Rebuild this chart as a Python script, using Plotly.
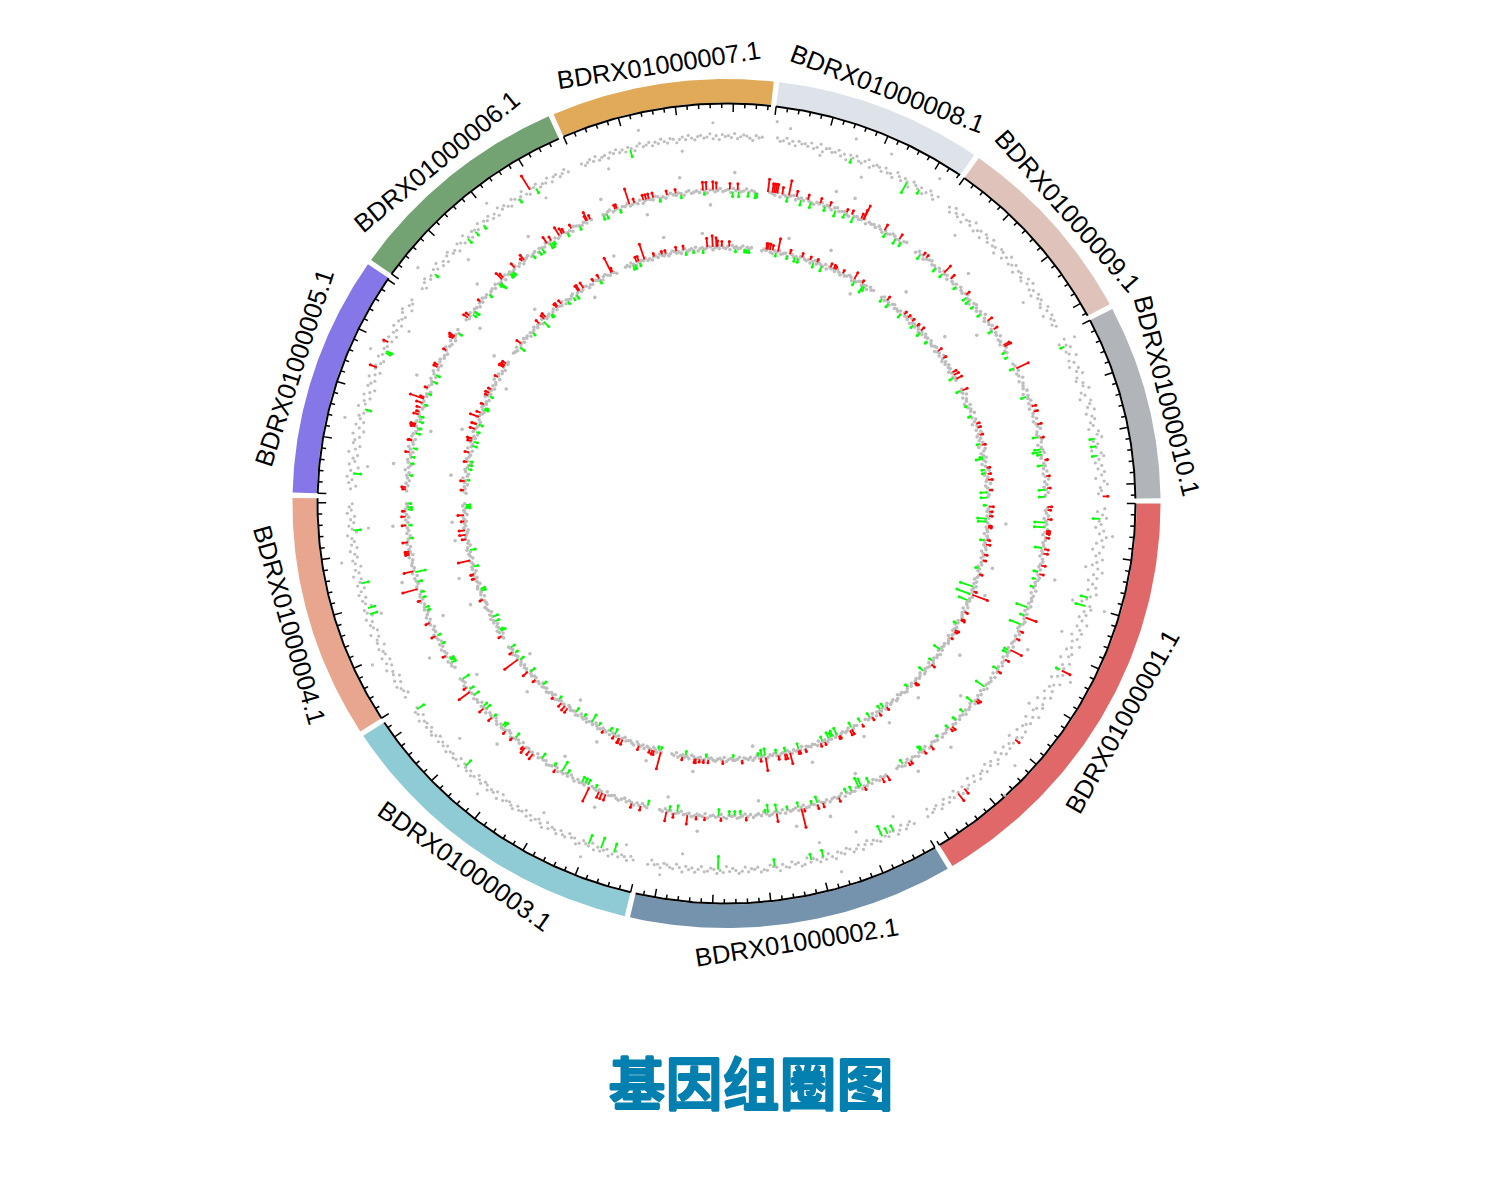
import math
import plotly.graph_objects as go

SECTOR_NAMES = ["BDRX01000001.1","BDRX01000002.1","BDRX01000003.1","BDRX01000004.1","BDRX01000005.1",
                "BDRX01000006.1","BDRX01000007.1","BDRX01000008.1","BDRX01000009.1","BDRX01000010.1"]
SECTOR_LENGTHS = [36.0,26.7,26.55,20.4,20.15,18.9,18.25,17.1,16.25,16.3]
SECTOR_COLORS = ["#E16868","#7593AD","#8FCBD4","#E9A68F","#8577E8","#74A373","#E1AA58","#DEE2E9","#DFC3BA","#B1B4B8"]
TITLE = "基因组圈图"

TRACK_BASE = [367, 313, 256]

T1 = [
[3,-4,1,5,-2,0,-5,3,-1,6,2,-3,4,-6,1,-2,5,0,-4,2,7,-1,3,-5,0,4,-3,6,1,-2,-6,3,5,-1,2,-4,0,6,-3,1,4,-5,2,-2,7,0,-4,3,1,-6,5,-1,2,-3,4,0,-5,6,1,-2,3,-4,5,0,-6,2,4,-1,-3,6,1,-5,3,0,-2,4,-4,5,1,-6,2,-1,3,-3,4,0,-5,2,5,-2,1,-4,3,-1,0,4,-3,2,-5,1,3,-2,4,0,-4,2,-1,3,-3,1,4,-2,0,2,-4,3],
[2,-2,0,3,-3,1,4,-1,-2,2,0,-4,3,1,-1,2,-3,0,4,-2,1,3,-1,-3,2,0,-2,4,1,-3,2,-1,3,0,-2,1,-4,2,3,-1,0,-3,2,1,-2,4,0,-1,-3,2,1,3,-2,0,-1,2,-3,1,3,0,-2,1,-4,2,0,3,-1,-2,1,2,-3,0,3,-1,1,-2,4,0,-3,2,1,-1,-2,3,0,1,-3,2],
[1,-2,3,0,-1,2,-3,1,4,-2,0,2,-1,3,-3,1,0,-2,2,4,-1,0,-3,2,1,-2,3,0,-1,2,-3,4,1,-2,0,3,-1,2,-3,0,1,-2,3,1,-1,0,2,-3,4,-2,1,0,3,-1,-2,2,0,-3,1,3,-1,2,0,-2,4,-3,1,2,-1,0,3,-2,1,-1,2,-3,0,3,1,-2,2,-1,0,4,-3,1,2,-2],
[2,-3,0,1,4,-2,3,-4,1,0,5,-2,2,-3,4,-1,0,3,-4,2,1,-2,5,-3,0,2,-1,4,-3,1,3,-5,0,2,-2,4,1,-3,3,0,-2,5,-1,2,-4,1,3,-2,0,4,-3,2,-1,1,5,-4,0,3,-2,1,-3,4,0,2,-1],
[1,-4,3,0,5,-2,2,-5,4,-1,1,-3,6,0,-4,3,2,-2,5,-5,0,4,-3,1,3,-1,-4,6,0,2,-3,4,-1,-5,3,1,-2,5,0,-4,2,3,-1,-3,4,1,-5,2,0,5,-2,3,-4,1,-1,4,-3,2,0,-2,3,5,-4,1,-1,2],
[0,-3,2,4,-1,1,-4,3,0,5,-2,1,-3,2,4,-1,0,-4,3,1,-2,5,0,-3,2,1,-1,4,-4,2,0,3,-2,1,-3,4,0,2,-1,-3,3,1,-2,0,4,-1,-3,2,1,3,-2,0,-1,3,-3,1,2,-2,0,3,-1],
[1,-2,0,2,-1,3,-2,0,1,-3,2,0,3,-1,1,-2,2,0,-3,1,3,-1,0,2,-2,1,-1,3,0,-2,2,1,-3,0,2,-1,3,0,-2,1,2,-1,0,3,-2,1,-3,2,0,1,-1,3,-2,0,2,1,-1,-3,2,0,1],
[2,-1,0,3,-2,1,-3,2,0,1,-1,3,-2,0,4,-3,1,2,-1,0,3,-2,1,-4,2,0,3,-1,-2,1,4,-3,0,2,1,-2,3,-1,0,-3,4,1,-2,2,0,-4,3,1,-1,2,-3,0,4,1,-2,3],
[1,-3,4,0,-2,3,-4,1,2,-1,5,-3,0,2,-4,3,1,-2,4,-1,0,-5,3,2,-3,1,5,-2,0,3,-4,1,2,-1,-3,4,0,5,-2,1,-4,3,0,2,-1,-3,4,1,-5,3,0,2,-2,1],
[2,-5,1,4,-2,0,6,-3,1,-5,3,0,5,-2,-4,2,1,6,-3,0,-6,4,2,-1,5,-4,1,3,-2,0,-5,4,2,6,-3,1,-1,-6,3,5,0,-4,2,-2,4,1,-5,3,6,-1,0,-3],
]
T2 = [
[1,-1,0,2,-2,0,1,-1,2,0,-2,1,1,-1,0,2,-1,0,-2,1,2,0,-1,1,-2,0,2,1,-1,0,-1,2,-2,1,0,1,-1,2,0,-2,1,-1,0,2,1,-1,-2,0,2,-1,1,0,-1,2,-2,1,0,1,-2,1,0,2,-1,0,1,-2,2,-1,1,0,-1,2,0,-2,1,-1,1,0,2,-2,0,1,-1,2,0,-1,1,-2,1,0,2,-1,-1,1,0,2,-2,1,0,-1,1,2,-2,0,1,-1,2,0,-1,1,-2,0,2,1,-1,0],
[0,1,-1,2,0,-2,1,-1,1,0,2,-1,-2,1,0,1,-1,2,-2,0,1,-1,0,2,-1,1,0,-2,2,0,-1,1,1,-2,0,2,-1,0,1,-1,2,-2,1,0,-1,1,2,0,-2,1,-1,0,2,-1,1,-2,0,1,2,-1,0,-1,2,1,-2,0,1,-1,0,2,-2,1,0,-1,1,2,-1,0,1,-2,0,1,2,-1,0,-2,1,0],
[1,0,-2,1,-1,2,0,-1,1,-2,0,2,1,-1,0,1,-2,2,0,-1,1,0,-1,2,-2,1,0,1,-1,2,0,-2,1,-1,1,0,2,-1,-2,0,1,2,-1,0,-1,1,-2,2,0,1,-1,0,2,-2,1,-1,0,1,2,-1,-2,0,1,1,-1,2,0,-2,1,0,-1,2,-1,0,1,-2,1,0,2,-1,0,1,-2,1,2,-1,0,1],
[-1,1,0,2,-2,1,-1,0,2,-1,1,-2,0,1,2,-1,0,-2,1,1,-1,2,0,-2,1,0,-1,2,-1,1,0,-2,2,1,-1,0,1,-2,2,0,-1,1,0,-1,2,-2,0,1,-1,2,1,0,-2,1,-1,0,2,-1,1,-2,0,2,1,-1,0],
[0,2,-1,1,-2,0,1,-1,3,0,-2,1,2,-1,0,-2,1,3,-1,0,-2,2,1,-1,-3,0,2,1,-2,0,1,3,-1,-2,1,0,2,-1,0,-3,2,1,-1,0,2,-2,1,3,-1,0,-2,1,2,-1,0,-2,1,3,0,-1,2,-2,0,1,-1,2],
[1,-1,0,2,-1,1,0,-2,1,-1,2,0,1,-2,0,1,-1,2,0,-1,1,-2,2,0,1,-1,0,2,-1,1,-2,0,1,2,-1,0,1,-2,1,0,-1,2,0,1,-2,1,-1,0,2,1,-1,0,-2,2,1,0,-1,1,-1,2,0],
[0,-1,1,2,-1,0,1,-2,1,0,2,-1,0,1,-1,2,-2,0,1,0,-1,2,1,-1,0,-2,1,2,0,-1,1,0,-2,1,2,-1,0,1,-1,2,0,-2,1,1,-1,0,2,-1,0,1,-2,2,0,1,-1,0,2,-1,1,0,-2],
[1,0,-1,2,-2,1,0,-1,1,2,-2,0,1,-1,2,0,-1,-2,1,0,2,-1,1,0,-2,1,2,-1,0,1,-1,-2,2,0,1,-1,0,2,-2,1,0,1,-1,2,0,-2,1,-1,0,2,1,-1,0,-2,1,2],
[-1,2,0,1,-2,0,1,2,-1,0,-2,1,-1,2,0,1,-2,3,0,-1,1,-2,2,0,-1,1,2,-1,0,-3,1,2,0,-2,1,-1,3,0,-2,1,0,2,-1,-2,1,0,3,-1,0,-2,1,2,-1,0],
[0,1,-2,2,-1,0,3,-2,1,0,-1,2,-3,1,0,2,-1,1,-2,3,0,-1,2,-2,0,1,3,-1,-2,0,2,1,-3,0,1,2,-1,-2,3,0,1,-1,2,-2,0,3,-1,1,-2,0,2,-1],
]
T3 = [
[1,0,-1,2,-1,1,-2,0,2,-1,0,1,-2,1,2,-1,0,-1,1,2,-2,0,1,-1,2,0,1,-2,0,-1,2,1,0,-2,1,-1,2,0,-1,1,-2,2,0,1,-1,0,2,-2,1,-1,0,1,2,-1,0,-2,1,0,-1,2,1,-2,0,1,2,-1,0,-1,1,-2,2,0,1,-1,0,2,-2,1,0,-1,1,2,-2,0,1,-1,0,2,-1,1,-2,0,2,1,-1,0,-2,1,2,-1,0,1,-2,0,2,-1,1,0,-1,2,-2,1,0,1,-1],
[0,-1,1,2,-2,0,1,-1,0,2,-1,1,-2,1,0,2,-1,0,1,-2,2,0,-1,1,0,-1,2,-2,1,0,1,-1,2,0,-2,1,-1,0,2,1,-2,0,-1,1,2,-1,0,1,-2,0,2,-1,1,0,-1,2,-2,0,1,1,-1,0,2,-2,1,-1,0,2,1,-1,0,-2,1,2,-1,0,1,-1,-2,2,0,1,-1,0,2,-2,1,0],
[1,-1,2,0,-2,1,0,-1,2,-1,1,0,-2,2,1,-1,0,1,-2,0,2,-1,1,0,-1,2,-2,1,0,-1,1,2,0,-2,1,-1,0,2,-1,1,0,-2,1,2,-1,0,1,-1,-2,2,0,1,-1,0,1,2,-2,0,-1,1,2,-1,0,1,-2,1,0,2,-1,-1,1,0,-2,2,0,1,-1,2,0,-2,1,-1,0,2,1,-1,0,1],
[0,1,-2,1,2,-1,0,-2,1,0,2,-1,1,-2,0,1,2,-1,-1,0,2,-2,1,0,-1,2,1,-2,0,1,-1,2,0,-2,1,1,-1,0,2,-2,0,1,-1,2,1,-2,0,-1,2,1,0,-1,-2,2,0,1,-1,1,2,-2,0,1,-1,2,0],
[-1,2,0,1,-2,1,0,3,-1,-2,1,2,0,-1,-3,1,2,0,-1,1,-2,3,0,-1,2,1,-2,0,-3,2,1,0,-1,2,-2,0,3,1,-1,-2,0,2,1,-1,0,-2,3,1,-1,2,0,-2,1,-1,0,3,-2,1,2,-1,0,-2,1,2,-1,0],
[1,0,-1,2,-2,0,1,-1,2,0,1,-2,1,-1,0,2,-1,1,0,-2,2,1,-1,0,1,-2,0,2,-1,1,0,-1,2,-2,1,0,-1,1,2,-2,0,1,-1,0,2,1,-2,0,-1,2,1,0,-1,-2,1,2,0,-1,1,0,-2],
[0,1,-1,2,0,-2,1,-1,1,0,2,-1,0,-2,1,1,-1,2,0,-1,1,-2,0,2,1,-1,0,-2,1,2,-1,0,1,-1,2,-2,0,1,-1,0,2,1,-2,0,1,-1,2,0,-1,1,-2,2,0,1,-1,0,2,-2,1,0,1],
[-1,1,0,2,-1,-2,1,0,2,-1,0,1,-2,2,1,-1,0,-2,1,2,0,-1,1,-2,0,2,-1,1,0,-1,2,-2,1,0,1,-1,2,0,-2,1,-1,0,2,1,-2,0,-1,1,2,-1,0,1,-2,2,0,1],
[0,2,-1,1,0,-2,1,2,-1,0,-1,1,-2,2,0,1,-1,3,-2,0,1,-1,2,0,-2,1,-1,2,0,1,-3,2,0,-1,1,2,-2,0,1,-1,3,0,-2,1,-1,2,0,1,-2,0,2,-1,1,0],
[1,-1,0,3,-2,1,0,-3,2,-1,1,0,3,-2,-1,2,0,-3,1,2,-1,3,0,-2,1,-1,2,0,-3,3,1,-2,0,2,-1,1,-3,0,2,3,-1,-2,1,0,-1,3,-2,0,2,-1,1,0],
]

T1_OUT = [(277.4,18),(279.5,13),(289.2,19),(294.8,18),(292,-15),(284.7,-7),(302.7,19),(309.8,-18),(325.3,-14),(333.9,12),
(10.2,-10),(15.9,-15),(16.3,18),(21.3,-15),(47,32),(42.9,18),(62.5,-14),(68.9,-15),(73,18),(75,-16),(34,-10),(28,14),(5,12),
(97,-14),(100,10),(106,-12),(112,14),(120,-10),(130,12),(138,-16),(155,15),(162,-12),(171,14),(176,-16),(186,-14),(193,16),(204,14),(209,-12),(218,16),(224,-16),(232,14),(240,-14),(251,-13),(257,16),(263,-12),(268,14)]
T2_OUT = [(289,17),(271.4,18),(292.4,17),(325.5,-16),(315.8,17),(13.4,17),(26.4,16),(40,-14),(48,15),(55,14),(65,-15),(72,16),(84,-14),(78,17),
(95,16),(101,-14),(113,17),(122,-15),(133,16),(145,-15),(152,16),(158,-14),(166,14),(176,14),(187,15),(194,-15),(203,16),(216,-15),(222,15),(234,17),(248,15),(255,-14),(262,16),(267,-14)]
T3_OUT = [(309.7,19),(292,17),(283,16),(300,-14),(322,15),(4.3,18),(33.6,18),(20,13),(14,12),(46,14),(54,15),(60,13),(72,16),(84,-12),
(97,14),(107,13),(118,14),(126,-13),(136,15),(142,-12),(158,14),(164,16),(172,12),(176,13),(186,15),(196,13),(208,-12),(213,15),(226,14),(238,-13),(246,15),(257,17),(265,15)]

T1_BARS = [(289.5,-3),(298.8,-10),(301,-3),(334.6,-3),(349.8,-4),(351,-4),(352.5,-4),(358.9,4),
(2.4,-6),(14.9,-6),(16.3,-9),(27,-3),(27,8),(39.9,4),(52,8),(50.8,5),(65.4,-10),(64.5,-5),(63.5,-5),(76.9,-5),(75,-6),(82.6,-6),
(91.3,-12),(107.5,-8),(109.6,-10),(111.6,-8),(134.2,-6),(145.8,-7),(167.4,-6),(163.4,-6),(162.4,-6),(175.8,-6),
(218.8,-3),(201.7,6),(204.6,-5),(204.3,-4),(206,4),(194.9,-5),(184.7,-6),(226.3,-4),(227.9,-3),(229.5,-3),(236.4,-3),(239.4,-4),(238.5,15),(255.1,-6)]
T2_BARS = [(0.6,3),(1.2,2),(3.5,-9),(2.9,3),(4.4,-9),(5,2),(5.2,2),(5.4,2),(5.6,2),(6.3,2),(8.2,-6),(8.4,3),(9.2,3),(11.4,3),(12.6,-3),(13,3),(14,-2),(15.5,-2),(19.4,-10),(22.8,-10),(21,-3),(21.3,10),(24,2),(25.5,2),(28,-3),(28.5,-3),(27.8,11),(29.8,3),(32,-3),(32.3,2),(36,-9),(39.5,-6),(38.6,3),(39,2),(42,-3),(44,-3),(46,-2),(45.3,3),(45.8,2),(48.5,-1),(52.2,-3),(52.5,-4),(56.5,-3),(50.5,3),(52,2),(55.5,2),(55,2),(60,4),(61,3),(63.5,-4),(64.5,2),(65,-7),(65.5,-9),(67,-3),(68,-3),(69.5,3),(73.5,-5),(72.5,3),(73.5,3),(74.5,-2),(76,2),(76.5,18),(77,-4),(79,-2),(81,7),(81,-6),(82.5,-7),(83,-2),(86.5,2),(87.5,-3),(88.5,-3),(89.5,-3),
(91,2),(91.4,-5),(93.9,2),(95.4,2),(97,8),(98.9,-5),(99.5,3),(100.3,-3),(100.8,8),(104.3,-4),(105.5,3),(107.2,3),(112.1,5),(112.8,5),(113.4,5),(114.2,-2),(115.3,14),(115.7,-4),(116.3,-4),(116.9,-4),(119.9,-3),(121,-9),(122.2,2),(122.7,-2),(125.3,-4),(127.1,5),(127.9,3),(128.9,5),(129.3,2),(131.4,-4),(131.8,2),(133.5,2),(134.2,-4),(134.6,-3),(137,3),(136.9,-2),(138.9,-4),(139.6,-3),(139.2,4),(142.2,-4),(143.1,12),(143.5,-3),(145.8,-6),(144.1,2),
(149.4,-3),(149.9,-3),(150.2,-3),(151,2),(153.3,-2),(155,3),(155,-2),(157.6,3),(160,-2),(160.6,-2),(162,2),(162.5,-2),(163.5,-2),(164.2,14),(165.5,-3),(167.3,-9),(167.5,8),(170.9,3),(171.2,3),(170.6,3),(172.9,4),(173.6,-2),(176,3),(176,-2),(177.6,3),(178.6,2),(179.3,-3),(178.9,-3),
(183,3),(182.6,2),(180,-2),(185.2,-2),(187.4,-2),(188.6,-2),(190.2,-3),(189.4,3),(191.6,3),(191.7,2),(193,-3),(194,-3),(194.5,4),(194.7,4),(194.2,3),(195.2,-3),(196.5,4),(197,2),(197.8,3),(198.7,5),(196.2,-2),(199.8,3),(198.5,-2),(199.5,13),(200.6,-2),(201.6,2),(203,-3),(204.3,-3),(205.8,3),(206.2,3),(209.2,2),(212.2,5),(212,4),(211.7,3),(213,-2),
(216.3,4),(216.8,3),(217.3,-3),(218,-4),(217.9,-3),(220,2),(222,-2),(225.6,7),(226,4),(224.9,-4),(225,-6),(224.6,-2),(227.3,-3),(227.6,-3),(228,-3),(228.7,4),(230.9,5),(230.5,2),(232.7,-2),(234,-3),(234.7,-3),(236,6),(236.9,3),(236.4,-4),(236.8,-4),(237.2,-2),(238.6,8),(239.2,5),(239.6,3),(240.1,-2),(241.1,3),(242.6,-2),(244.3,8),(244.1,4),(244.9,3),
(247.3,-3),(248,-3),(249.7,3),(250,3),(250.5,-2),(252.4,15),(253.3,3),(255,4),(255.5,4),(256,4),(256.8,4),(257.9,-2),(259.3,3),(260.9,3),(261.8,-2),(265.8,7),(266,-1),(266.4,7),(267.6,7),(268.2,6),
(270.6,5),(271.1,-4),(272,5),(272.2,-4),(273.9,-3),(275.2,-4),(275.5,-3),(277.4,12),(278.2,8),(278.5,8),(278.8,8),(279.1,8),(280,6),(281,-3),(281.2,14),(282.6,5),(283.5,-4),(284.7,4),(285.3,-4),(287,4),(288,-3),(288.8,3),(290,-5),(291.7,-3),(292,2),(293.4,-4),(293,3),(294.8,4),(295.2,9),(295.3,14),(299.5,5),(299.9,-3),(302,-4),(302.6,4),(303.2,-3),
(307.3,-3),(307.8,2),(308.5,2),(311,-3),(312.7,8),(312.6,-3),(314.3,4),(316,-2),(318.3,3),(318.7,-3),(319.5,-3),(320.8,-2),(322.7,-2),(324.4,4),(326.3,3),(326.4,-3),(329.7,5),(330,6),(331,-2),(332,-2),(334.5,12),(334.3,-3),(340,-4),(342,3),(343,3),(345.4,3),(347.7,-4),(347.9,2),(350.5,-7),(350,-5),(351,-3),(352,2),(353,-4),(355,2),(357.5,-5),(357.2,2),(358.8,-5)]
T3_BARS = [(0.4,-2),(0.7,3),(1.8,2),(2.8,2),(4.1,-7),(3.4,-8),(5,2),(5.2,2),(5.4,2),(8.3,-3),(8.2,2),(9.2,3),(11.5,2),(12.8,2),(14.7,-2),(16,2),(19,-12),(20.8,-13),(22.3,-8),(20.8,15),(20,2),(25,2),(27,3),(26.7,2),(28,-2),(29.5,3),(29.9,2),(31.5,1),(34.9,-6),(38.8,3),(38,-2),(41,-4),(44,3),(44.3,2),(46,-2),(52.4,2),(53,-3),(53.9,-3),(54.5,2),(56.8,-3),(56.3,2),(59,2),(59.1,-3),(61.4,-4),(61.5,4),(62,4),(64.4,2),(64.7,2),(65,-6),(66,-5),(67,-5),(66.4,-3),(68.5,-3),(68,2),(69,2),(74,-4),(72.5,2),(73.8,2),(74.1,2),(77,-3),(76,10),(76.8,4),(77.2,4),(78.6,3),(79,-3),(81.4,12),(81.5,-6),(82.3,-5),(83,-2),(82.5,2),(86.6,2),(88.5,-2),
(90.8,2),(94,2),(95,2),(95.9,2),(94.5,-2),(96.7,3),(97,3),(99,-3),(99.7,2),(104.5,16),(104.5,-2),(105.2,-2),(106.4,3),(106,3),(107,2),(109.5,3),(113.3,4),(114,4),(114.2,4),(115.3,-4),(116.5,-3),(115.4,2),(118,1),(119.3,-2),(121.1,-7),(123.1,-2),(125.2,-3),(127.2,4),(128,4),(129,3),(129.9,-2),(131.2,1),(134.7,-3),(136.7,2),(138.7,-4),(139.1,5),(142.6,15),(142.3,-3),(144.6,2),(145.7,-3),(144.2,-2),(148.9,2),(150,-4),(150.4,-2),(152.5,-3),(158,2),(153.6,-4),(160,-3),(160.5,-3),(163,2),(164,2),(164,2),(165.7,-3),(167.2,11),(169.5,-4),(172,3),(173,5),(174,5),(176,2),(177.4,5),(179.7,-3),(179.4,-3),(179,-3),
(183,2),(185,3),(185.3,-1),(187.7,-2),(188.6,-2),(189.5,-2),(189.3,2),(191.5,3),(193,-3),(194,-3),(194.1,3),(194.6,3),(194.7,4),(196.3,-2),(196.9,4),(198,4),(198,3),(199.7,8),(198,-3),(200.7,3),(201.6,-3),(202,-2),(202.7,2),(204.9,2),(205.5,3),(206.4,2),(204.8,-2),(209.5,2),(212.2,4),(212,4),(212.5,3),(213,3),(217.7,-4),(218.5,4),(222,-2),(224.5,3),(226,3),(226.5,4),(225.5,-6),(227.7,-2),(228,-2),(229.7,3),(230,3),(231,3),(232.5,-2),(234,-2),(234.9,-3),(235.7,5),(236,5),(237,5),(239.6,2),(241,-2),(241,3),(244,15),(244.3,3),(249,-3),(249.5,-3),(250,4),(250.5,4),(250.6,-2),(251.8,15),(254,2),(255.8,2),(256.6,2),(259,3),(260.6,3),(261,-2),(262.7,-1),(264.8,-2),(265.8,8),(267,10),(267.8,8),(268.1,5),(269,4),
(270.6,4),(272,-2),(274,-2),(274.5,-2),(275,-2),(278.7,5),(279,5),(279.5,5),(280.1,4),(280.9,-2),(281.3,12),(283.5,-2),(284,3),(285.2,-3),(286,-3),(286.7,3),(288.6,2),(289.5,-3),(290.2,2),(291.4,-4),(293.3,3),(294.1,3),(294.5,2),(296.3,2),(299.1,6),(299.4,-3),(301.1,2),(301.5,-6),(301.9,-3),
(306.6,-2),(307.7,3),(308.4,-3),(312,-3),(312.6,2),(313.7,2),(314.9,2),(315.7,-2),(316.4,2),(317.7,3),(318,-3),(320.5,-2),(323.6,3),(325.6,2),(329.3,3),(330,4),(331,5),(330.5,-3),(333.9,4),(333.8,-3),(337.5,-1),(340,-2),(341.9,2),(342.8,2),(344.5,2),(346.5,-2),(346.8,2),(349.9,-6),(349.5,-2),(352,2),(353.4,2),(352.4,-2),(353.2,-2),(354.7,3),(357,2),(357.5,-5),(358.7,-5)]

GAP_DEG = 0.72
STRETCH = 1.0225
CX, CY = 726.5, 503.5
HALF = 450
W, H = 1500, 1200
BAND_IN, BAND_OUT, AXIS_R, LABEL_R = 401, 424.5, 400, 444
TITLE_BLUE = "#0480B0"


def xy(angle, r):
    t = math.radians(angle)
    return r * math.cos(t), -r * math.sin(t)


unit = (360 - GAP_DEG * len(SECTOR_LENGTHS)) / sum(SECTOR_LENGTHS)
starts, ends = [], []
cursor = 0.0
for length in SECTOR_LENGTHS:
    starts.append(cursor)
    ends.append(cursor + length * unit)
    cursor = ends[-1] + GAP_DEG

fig = go.Figure()

for s, e, color in zip(starts, ends, SECTOR_COLORS):
    steps = [s + (e - s) * k / 80 for k in range(81)]
    pts = [xy(a, BAND_OUT) for a in steps] + [xy(a, BAND_IN) for a in reversed(steps)]
    fig.add_trace(go.Scatter(x=[p[0] for p in pts], y=[p[1] for p in pts], mode="lines", fill="toself",
                             fillcolor=color, line=dict(width=0), hoverinfo="skip"))

ax, ay = [], []
major_x, major_y = [], []
for s, e, length in zip(starts, ends, SECTOR_LENGTHS):
    for k in range(81):
        x, y = xy(s + (e - s) * k / 80, AXIS_R)
        ax.append(x); ay.append(y)
    ax.append(None); ay.append(None)
    for k in range(int(length) + 1):
        a = s + k * unit
        r2 = AXIS_R - (8.5 if k % 5 == 0 else 4.5)
        p1, p2 = xy(a, AXIS_R), xy(a, r2)
        major_x += [p1[0], p2[0], None]
        major_y += [p1[1], p2[1], None]
fig.add_trace(go.Scatter(x=ax, y=ay, mode="lines", line=dict(color="black", width=2), hoverinfo="skip"))
fig.add_trace(go.Scatter(x=major_x, y=major_y, mode="lines", line=dict(color="black", width=1.5), hoverinfo="skip"))

for base, rows, outliers, size in zip(TRACK_BASE, (T1, T2, T3), (T1_OUT, T2_OUT, T3_OUT), (3.2, 3.6, 3.6)):
    gx, gy = [], []
    for s, e, row in zip(starts, ends, rows):
        a0, a1 = s + 0.8, e - 0.8
        for k, off in enumerate(row):
            x, y = xy(a0 + (a1 - a0) * k / (len(row) - 1), base + off)
            gx.append(x); gy.append(y)
    for a, off in outliers:
        x, y = xy(a, base + off)
        gx.append(x); gy.append(y)
    fig.add_trace(go.Scatter(x=gx, y=gy, mode="markers", marker=dict(color="#BEBEBE", size=size, line=dict(width=0)),
                             hoverinfo="skip"))

for base, bars in zip(TRACK_BASE, (T1_BARS, T2_BARS, T3_BARS)):
    for color, sign in (("#00FF00", -1), ("#FF0000", 1)):
        lx, ly, mx, my = [], [], [], []
        for a, v in bars:
            if v * sign <= 0:
                continue
            p1, p2 = xy(a, base + sign), xy(a, base + v + sign * 2)
            lx += [p1[0], p2[0], None]
            ly += [p1[1], p2[1], None]
            mx.append(p2[0]); my.append(p2[1])
        fig.add_trace(go.Scatter(x=lx, y=ly, mode="lines", line=dict(color=color, width=1.8), hoverinfo="skip"))
        fig.add_trace(go.Scatter(x=mx, y=my, mode="markers", marker=dict(color=color, size=3, line=dict(width=0)),
                                 hoverinfo="skip"))

annotations = []
for s, e, name in zip(starts, ends, SECTOR_NAMES):
    mid = (s + e) / 2
    x, y = xy(mid, LABEL_R)
    rot = mid - 90 if mid < 180 else mid + 90
    if rot > 180:
        rot -= 360
    annotations.append(dict(x=x, y=y, xref="x", yref="y", text=name, textangle=rot, showarrow=False,
                            xanchor="center", yanchor="middle",
                            font=dict(family="Liberation Sans", size=25.5, color="black")))

x_half_px = HALF * STRETCH
fig.update_layout(
    width=W, height=H, margin=dict(l=0, r=0, t=0, b=0), paper_bgcolor="white", plot_bgcolor="white",
    showlegend=False, annotations=annotations,
    title=dict(text="<b>%s</b>" % TITLE, x=751 / W, xanchor="center", y=1 - 1085 / H, yanchor="middle",
               font=dict(family="Noto Sans CJK SC", size=57, color=TITLE_BLUE,
                         shadow="0.8px 0 0 {0}, -0.8px 0 0 {0}, 0 0.8px 0 {0}, 0 -0.8px 0 {0}".format(TITLE_BLUE))),
    xaxis=dict(range=[-HALF, HALF], domain=[(CX - x_half_px) / W, (CX + x_half_px) / W], visible=False, fixedrange=True),
    yaxis=dict(range=[-HALF, HALF], domain=[1 - (CY + HALF) / H, 1 - (CY - HALF) / H], visible=False, fixedrange=True),
)
fig.write_html("out.html", config=dict(displayModeBar=False), post_script="document.body.style.margin='0';")
